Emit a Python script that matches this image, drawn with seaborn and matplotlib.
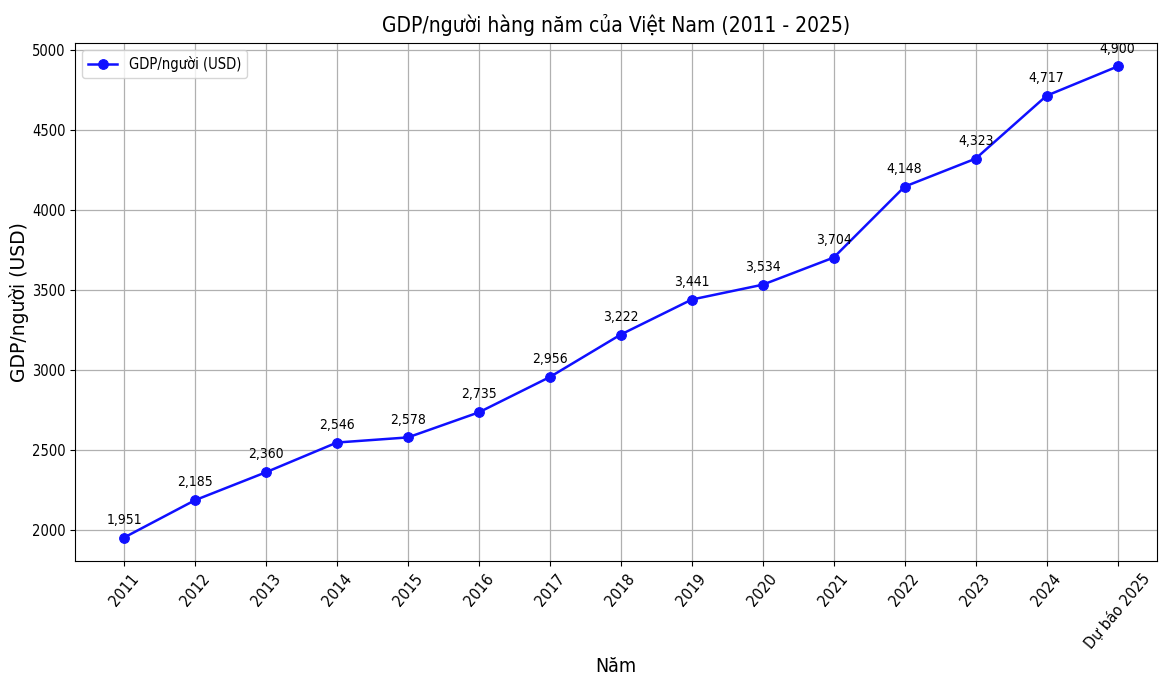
import matplotlib
matplotlib.use("Agg")
import matplotlib.pyplot as plt
import seaborn as sns
from pandas import DataFrame

YEARS = ['2011', '2012', '2013', '2014', '2015', '2016', '2017', '2018',
         '2019', '2020', '2021', '2022', '2023', '2024', 'Dự báo 2025']
GDP = [1951, 2185, 2360, 2546, 2578, 2735, 2956, 3222,
       3441, 3534, 3704, 4148, 4323, 4717, 4900]

df = DataFrame({'Năm': YEARS, 'GDP': GDP})

plt.rcParams['font.family'] = ['DejaVu Sans']
plt.rcParams['font.stretch'] = 'condensed'

fig = plt.figure(figsize=(11.6, 6.81), dpi=100)
ax = fig.add_axes([0.0647, 0.176, 0.933, 0.761])

sns.lineplot(data=df, x='Năm', y='GDP', marker='o', color='#1010ff', linewidth=1.8,
             markersize=7, markeredgecolor='#1010ff', label='GDP/người (USD)', ax=ax)

for i, v in enumerate(GDP):
    ax.annotate(f"{v:,}", (i, v), textcoords="offset points", xytext=(0, 10),
                ha='center', fontsize=10)

ax.set_xlim(-0.69, 14.56)
ax.set_title("GDP/người hàng năm của Việt Nam (2011 - 2025)", fontsize=15, pad=8)
ax.set_xlabel("Năm", fontsize=14, labelpad=4)
ax.set_ylabel("GDP/người (USD)", fontsize=13.5, fontstretch='normal', labelpad=2)
ax.tick_params(axis='x', labelrotation=50, labelsize=11.5)
ax.tick_params(axis='y', labelsize=10.5)
ax.grid(True, color='#b0b0b0', linewidth=0.9)
ax.legend(loc='upper left', fontsize=10.5)

plt.savefig("out.png", dpi=100)
